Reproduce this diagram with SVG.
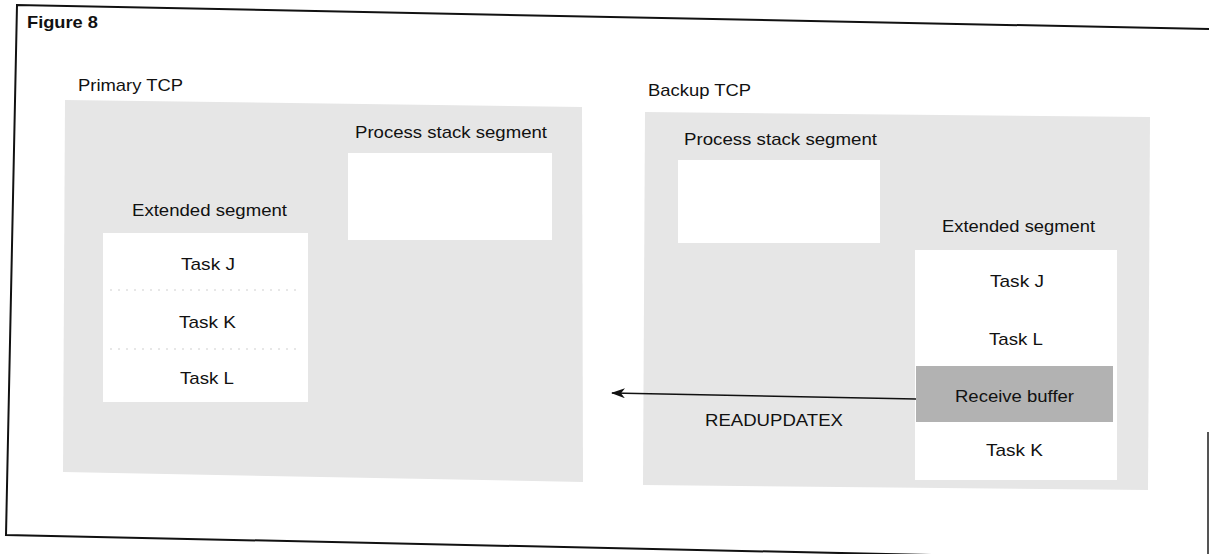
<svg xmlns="http://www.w3.org/2000/svg" width="1209" height="554" viewBox="0 0 1209 554">
<defs>
<style>
text{font-family:"Liberation Sans",Arial,Helvetica,sans-serif;font-size:17px;fill:#111;}
.title{font-weight:bold;}
.frame{fill:none;stroke:#111;stroke-width:2;}
.tcp{fill:#e6e6e6;stroke:none;}
.seg{fill:#ffffff;stroke:none;}
.buf{fill:#b2b2b2;stroke:none;}
.sep{stroke:#cfcfcf;stroke-width:1;stroke-dasharray:2 6;}
.conn{fill:none;stroke:#111;stroke-width:1.6;}
</style>
<marker id="arrow" viewBox="0 0 14 10" refX="13" refY="5" markerWidth="14" markerHeight="10" markerUnits="userSpaceOnUse" orient="auto">
<path d="M0,0 L14,5 L0,10 L4,5 Z" fill="#111"/>
</marker>
</defs>
<rect x="0" y="0" width="1209" height="554" fill="#ffffff"/>
<g id="frame">
<polyline class="frame" points="1209,29 17,5 6,535 1209,561"/>
<line x1="1208" y1="432" x2="1208" y2="554" stroke="#555" stroke-width="2"/>
<text class="title" x="27" y="28" textLength="71" lengthAdjust="spacingAndGlyphs">Figure 8</text>
</g>
<g id="primary-tcp">
<polygon class="tcp" points="65,100 582,107 583,482 63,472"/>
<text x="78" y="91" textLength="105" lengthAdjust="spacingAndGlyphs">Primary TCP</text>
</g>
<g id="backup-tcp">
<polygon class="tcp" points="645,112 1150,117 1148,490 643,485"/>
<text x="648" y="96" textLength="103" lengthAdjust="spacingAndGlyphs">Backup TCP</text>
</g>
<g id="primary-stack">
<rect class="seg" x="348" y="153" width="204" height="87"/>
<text x="355" y="138" textLength="192" lengthAdjust="spacingAndGlyphs">Process stack segment</text>
</g>
<g id="backup-stack">
<rect class="seg" x="678" y="160" width="202" height="83"/>
<text x="684" y="145" textLength="193" lengthAdjust="spacingAndGlyphs">Process stack segment</text>
</g>
<g id="primary-extended">
<rect class="seg" x="103" y="233" width="205" height="169"/>
<line class="sep" x1="110" y1="290" x2="300" y2="290"/>
<line class="sep" x1="110" y1="349" x2="300" y2="349"/>
<text x="132" y="216" textLength="155" lengthAdjust="spacingAndGlyphs">Extended segment</text>
<text x="181" y="270" textLength="54" lengthAdjust="spacingAndGlyphs">Task J</text>
<text x="179" y="328" textLength="57" lengthAdjust="spacingAndGlyphs">Task K</text>
<text x="180" y="384" textLength="54" lengthAdjust="spacingAndGlyphs">Task L</text>
</g>
<g id="backup-extended">
<rect class="seg" x="915" y="250" width="202" height="230"/>
<text x="942" y="232" textLength="153" lengthAdjust="spacingAndGlyphs">Extended segment</text>
<text x="990" y="287" textLength="54" lengthAdjust="spacingAndGlyphs">Task J</text>
<text x="989" y="345" textLength="54" lengthAdjust="spacingAndGlyphs">Task L</text>
<text x="986" y="456" textLength="57" lengthAdjust="spacingAndGlyphs">Task K</text>
</g>
<g id="receive-buffer">
<rect class="buf" x="916" y="366" width="197" height="56"/>
<text x="955" y="402" textLength="119" lengthAdjust="spacingAndGlyphs">Receive buffer</text>
</g>
<g id="connectors">
<line class="conn" x1="916" y1="399" x2="612" y2="393" marker-end="url(#arrow)"/>
<text x="705" y="426" textLength="138" lengthAdjust="spacingAndGlyphs">READUPDATEX</text>
</g>
</svg>
